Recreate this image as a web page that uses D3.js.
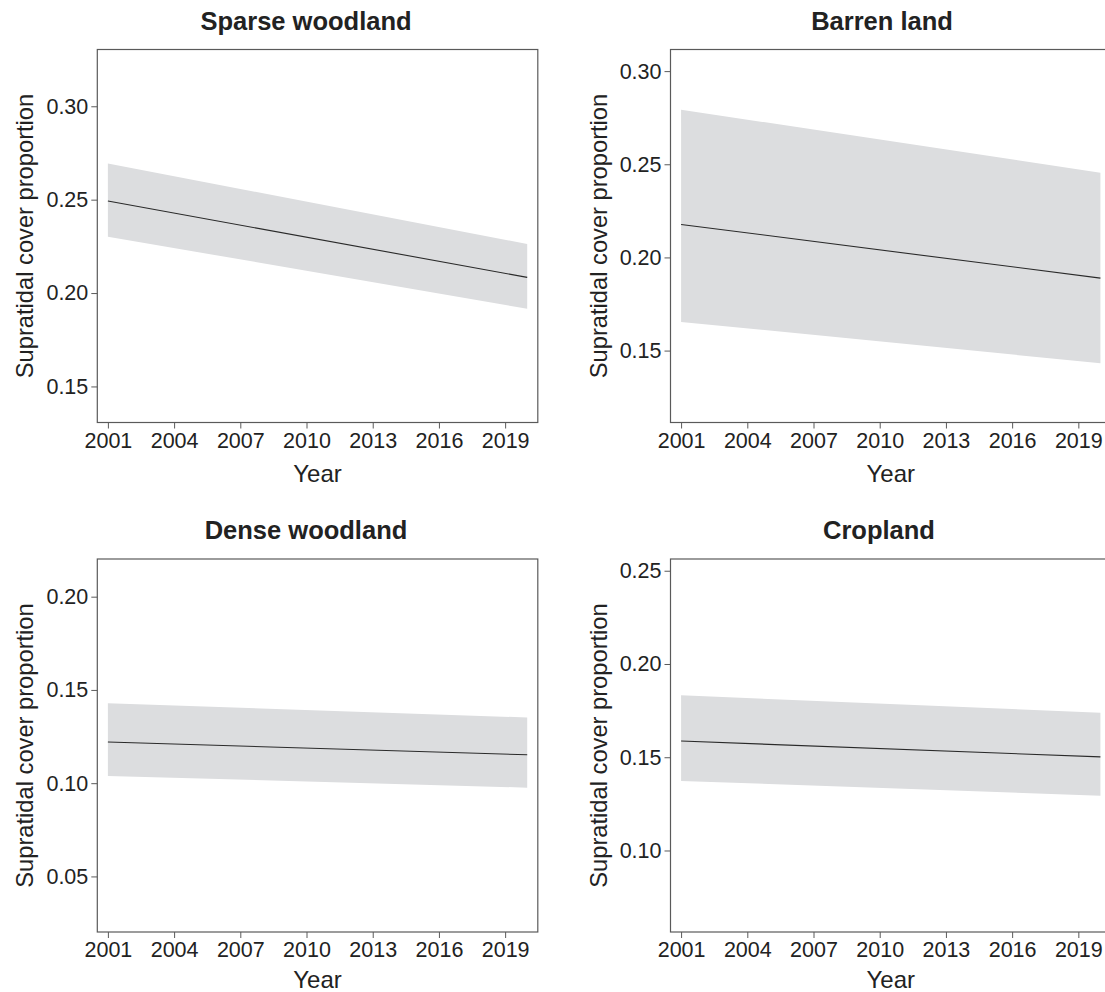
<!DOCTYPE html>
<html><head><meta charset="utf-8">
<script src="https://cdn.jsdelivr.net/npm/d3@7"></script>
<style>body{margin:0;background:#fff;} text{font-family:"Liberation Sans",Arial,sans-serif;}</style>
</head><body><svg id="c" width="1105" height="992"></svg>
<script>
const titles = ["Sparse woodland", "Barren land", "Dense woodland", "Cropland"];
const years = [2001, 2020];
const xTicks = [2001, 2004, 2007, 2010, 2013, 2016, 2019];
const fitSparse = [0.2493, 0.2084];
const lowSparse = [0.2302, 0.1916];
const highSparse = [0.2693, 0.2263];
const fitBarren = [0.2177, 0.1889];
const lowBarren = [0.1654, 0.1432];
const highBarren = [0.2793, 0.2455];
const fitDense = [0.1221, 0.1152];
const lowDense = [0.1039, 0.0976];
const highDense = [0.1429, 0.1352];
const fitCrop = [0.1587, 0.1502];
const lowCrop = [0.1373, 0.1294];
const highCrop = [0.1832, 0.1739];
const yTicksSparse = [0.15, 0.20, 0.25, 0.30];
const yTicksBarren = [0.15, 0.20, 0.25, 0.30];
const yTicksDense = [0.05, 0.10, 0.15, 0.20];
const yTicksCrop = [0.10, 0.15, 0.20, 0.25];
const yDomains = [[0.1307, 0.3304], [0.1114, 0.3116], [0.0202, 0.2202], [0.0563, 0.2563]];

const panels = [
  {fit: fitSparse, low: lowSparse, high: highSparse, ticks: yTicksSparse},
  {fit: fitBarren, low: lowBarren, high: highBarren, ticks: yTicksBarren},
  {fit: fitDense, low: lowDense, high: highDense, ticks: yTicksDense},
  {fit: fitCrop, low: lowCrop, high: highCrop, ticks: yTicksCrop}
];

const svg = d3.select("#c");
const W = 440.5, H = 373;
const origins = [[97.3, 49.5], [670.5, 49.5], [97.3, 559], [670.5, 559]];
const titleX = [306, 882, 306, 879];

panels.forEach((p, i) => {
  const [ox, oy] = origins[i];
  const g = svg.append("g").attr("transform", `translate(${ox},${oy})`);
  const x = d3.scaleLinear().domain([2000.52, 2020.48]).range([0, W]);
  const y = d3.scaleLinear().domain(yDomains[i]).range([H, 0]);
  const rows = years.map((yr, k) => ({yr, fit: p.fit[k], lo: p.low[k], hi: p.high[k]}));
  g.append("path").datum(rows)
    .attr("d", d3.area().x(d => x(d.yr)).y0(d => y(d.lo)).y1(d => y(d.hi)))
    .attr("fill", "#dcdddf");
  g.append("path").datum(rows)
    .attr("d", d3.line().x(d => x(d.yr)).y(d => y(d.fit)))
    .attr("fill", "none").attr("stroke", "#2a2a2a").attr("stroke-width", 1.1);
  g.append("rect").attr("x", 0).attr("y", 0).attr("width", W).attr("height", H)
    .attr("fill", "none").attr("stroke", "#5a5a5a").attr("stroke-width", 1.2);

  const xa = g.append("g").attr("transform", `translate(0,${H})`)
    .call(d3.axisBottom(x).tickValues(xTicks).tickFormat(d3.format("d")).tickSize(6).tickPadding(4));
  const ya = g.append("g")
    .call(d3.axisLeft(y).tickValues(p.ticks).tickFormat(d3.format(".2f")).tickSize(6).tickPadding(3));
  [xa, ya].forEach(a => {
    a.select(".domain").remove();
    a.selectAll(".tick line").attr("stroke", "#5a5a5a");
    a.selectAll(".tick text").attr("fill", "#222").attr("font-size", 21.5)
      .attr("font-family", "Liberation Sans, Arial, sans-serif");
  });

  g.append("text").attr("x", W / 2).attr("y", H + (i < 2 ? 59 : 56))
    .attr("text-anchor", "middle").attr("font-size", 24).attr("fill", "#222").text("Year");
  g.append("text").attr("transform", `translate(-64,${H / 2}) rotate(-90)`)
    .attr("text-anchor", "middle").attr("font-size", 23.7).attr("fill", "#222")
    .text("Supratidal cover proportion");
  svg.append("text").attr("x", titleX[i]).attr("y", oy - 20)
    .attr("text-anchor", "middle").attr("font-size", 25.5).attr("font-weight", "bold")
    .attr("fill", "#222").text(titles[i]);
});
</script></body></html>
